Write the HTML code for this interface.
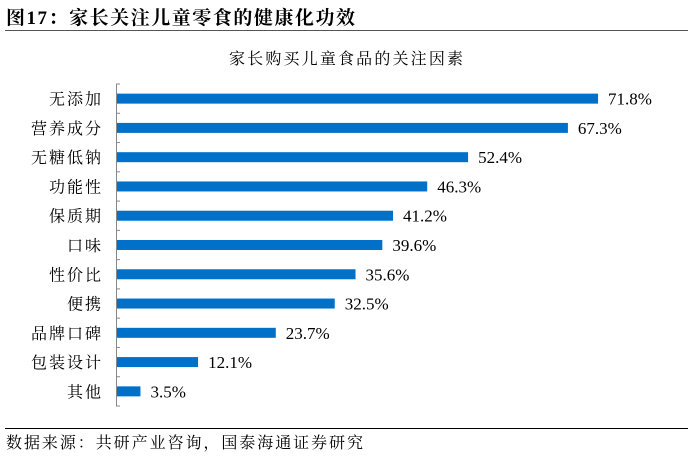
<!DOCTYPE html>
<html><head><meta charset="utf-8"><style>
body{margin:0;background:#fff;width:692px;height:455px;overflow:hidden}
svg text{font-family:"Liberation Serif","Noto Serif CJK SC",serif;fill:#000}
</style></head><body>
<svg id="c" width="692" height="455">
<text x="6" y="24" font-size="19" font-weight="bold" textLength="349" lengthAdjust="spacing">图17：家长关注儿童零食的健康化功效</text>
<line x1="5" y1="30.5" x2="688" y2="30.5" stroke="#555" stroke-width="1"/>
<text x="229" y="64" font-size="16" textLength="234" lengthAdjust="spacing">家长购买儿童食品的关注因素</text>
<line x1="116.5" y1="84" x2="116.5" y2="406" stroke="#888"/>
<g id="bars"></g>
<line x1="5" y1="428.5" x2="688" y2="428.5" stroke="#000"/>
<text x="6" y="448" font-size="16" textLength="357" lengthAdjust="spacing">数据来源：共研产业咨询，国泰海通证券研究</text>
</svg>
<script>
const categories=["无添加","营养成分","无糖低钠","功能性","保质期","口味","性价比","便携","品牌口碑","包装设计","其他"];
const values=[71.8,67.3,52.4,46.3,41.2,39.6,35.6,32.5,23.7,12.1,3.5];
const labels=["71.8%","67.3%","52.4%","46.3%","41.2%","39.6%","35.6%","32.5%","23.7%","12.1%","3.5%"];
const X0=117,PX_PER=6.7,TOP_Y=84,BAND=(406-84)/categories.length;
const xs=v=>X0+v*PX_PER;
const ys=i=>TOP_Y+BAND*(i+0.5);
const g=document.getElementById('bars');
const NS="http://www.w3.org/2000/svg";
for(let i=0;i<=categories.length;i++){
  const t=document.createElementNS(NS,'line');
  t.setAttribute('x1',116);t.setAttribute('x2',120);
  t.setAttribute('y1',TOP_Y+BAND*i);t.setAttribute('y2',TOP_Y+BAND*i);
  t.setAttribute('stroke','#888');
  
  
  g.appendChild(t);
}
categories.forEach((c,i)=>{
  const y=ys(i);
  const r=document.createElementNS(NS,'rect');
  r.setAttribute('x',X0);r.setAttribute('y',y-5);
  r.setAttribute('width',xs(values[i])-X0);r.setAttribute('height',10);
  r.setAttribute('fill','#0070c8');
  
  
  g.appendChild(r);
  const l=document.createElementNS(NS,'text');
  const w=c.length*18-2;
  l.setAttribute('x',101-w);l.setAttribute('y',y+6);
  l.setAttribute('font-size','16');
  l.setAttribute('textLength',w);
  l.setAttribute('lengthAdjust','spacing');
  l.textContent=c;
  
  
  g.appendChild(l);
  const v=document.createElementNS(NS,'text');
  v.setAttribute('x',xs(values[i])+10);v.setAttribute('y',y+6);
  v.setAttribute('font-size','17');
  v.textContent=labels[i];
  
  
  g.appendChild(v);
});
</script>
</body></html>
